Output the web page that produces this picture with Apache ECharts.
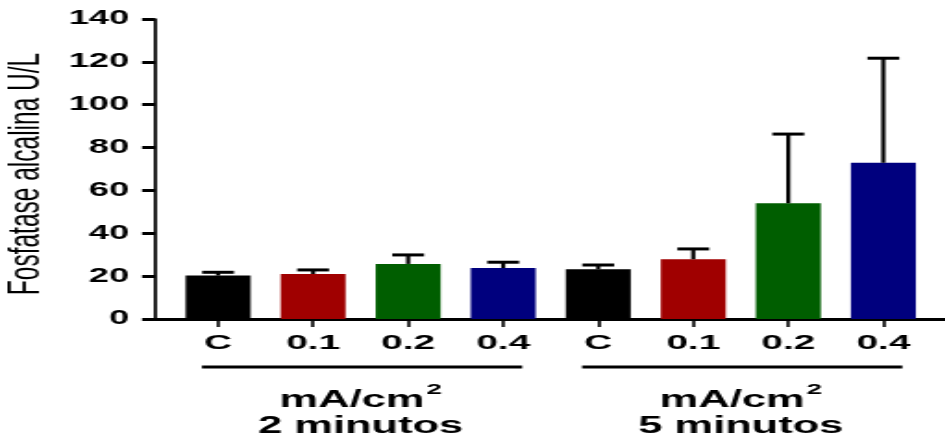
<!DOCTYPE html>
<html>
<head>
<meta charset="utf-8">
<script src="https://cdn.jsdelivr.net/npm/echarts@6/dist/echarts.min.js"></script>
<style>
  html, body { margin: 0; padding: 0; background: #fff; overflow: hidden; }
  #wrap { width: 945px; height: 438px; overflow: hidden; }
  /* the chart is laid out narrow and stretched horizontally */
  #chart { width: 510.8px; height: 438px; transform: scaleX(1.85); transform-origin: 0 0; }
</style>
</head>
<body>
<div id="wrap"><div id="chart"></div></div>
<script>
// Fosfatase alcalina (U/L), mean with upper SD, by current density and time
const tickLabels = ['C', '0.1', '0.2', '0.4', 'C', '0.1', '0.2', '0.4'];
const groupNames = ['2 minutos', '5 minutos'];
const groupRanges = [[0, 3], [4, 7]];
const means2min = [20.3, 21.0, 25.7, 23.8];
const upper2min = [21.8, 22.9, 29.9, 26.5];
const means5min = [23.2, 27.9, 54.0, 72.9];
const upper5min = [25.2, 32.7, 86.3, 121.7];
const barColors = ['#000000', '#a00000', '#005e00', '#00007e'];
const yTicks = [0, 20, 40, 60, 80, 100, 120, 140];

const FONT = "'Liberation Sans', Arial, Helvetica, sans-serif";
const BAR_W = 35.1;      // bar width in px (before stretch)
const CAP_HALF = 8.6;    // half width of the error-bar cap

const means = means2min.concat(means5min);
const uppers = upper2min.concat(upper5min);
const seriesData = means.map((m, i) => [i, m, uppers[i]]);
const positions = tickLabels.map((_, i) => i);

const chart = echarts.init(document.getElementById('chart'), null, { renderer: 'canvas' });

chart.setOption({
  animation: false,
  backgroundColor: '#ffffff',
  grid: { left: 83.8, right: 0, top: 19, bottom: 119, containLabel: false, outerBoundsMode: 'none' },
  xAxis: {
    type: 'value',
    min: -0.6632,
    max: 7.6526,
    splitLine: { show: false },
    axisLine: { show: true, onZero: false, lineStyle: { color: '#000', width: 3 } },
    axisTick: { show: true, customValues: positions, length: 8, lineStyle: { color: '#000', width: 1.6 } },
    axisLabel: {
      show: true,
      customValues: positions,
      formatter: v => tickLabels[Math.round(v)] || '',
      margin: 14,
      color: '#000',
      fontFamily: FONT,
      fontWeight: 'bold',
      fontSize: 21
    }
  },
  yAxis: {
    type: 'value',
    min: yTicks[0],
    max: yTicks[yTicks.length - 1],
    interval: 20,
    name: 'Fosfatase alcalina U/L',
    nameLocation: 'middle',
    nameGap: 45,
    nameTextStyle: { color: '#000', fontFamily: FONT, fontSize: 24.5, padding: [0, 10, 0, 0] },
    splitLine: { show: false },
    axisLine: { show: true, onZero: false, lineStyle: { color: '#000', width: 1.7 } },
    axisTick: { show: true, length: 7, lineStyle: { color: '#000', width: 3 } },
    axisLabel: { margin: 14, color: '#000', fontFamily: FONT, fontWeight: 'bold', fontSize: 19.5 }
  },
  series: [
    {
      // filled bars
      type: 'custom',
      z: 2,
      data: seriesData,
      renderItem: function (params, api) {
        const x = api.value(0);
        const top = api.coord([x, api.value(1)]);
        const base = api.coord([x, 0]);
        return {
          type: 'rect',
          shape: { x: top[0] - BAR_W / 2, y: top[1], width: BAR_W, height: base[1] - top[1] },
          style: { fill: barColors[params.dataIndex % 4] }
        };
      }
    },
    {
      // upper error bars
      type: 'custom',
      z: 3,
      data: seriesData,
      renderItem: function (params, api) {
        const x = api.value(0);
        const base = api.coord([x, api.value(1)]);
        const top = api.coord([x, api.value(2)]);
        return {
          type: 'group',
          children: [
            { type: 'line', shape: { x1: base[0], y1: base[1], x2: top[0], y2: top[1] },
              style: { stroke: '#000', lineWidth: 2.2 } },
            { type: 'line', shape: { x1: top[0] - CAP_HALF, y1: top[1], x2: top[0] + CAP_HALF, y2: top[1] },
              style: { stroke: '#000', lineWidth: 3 } }
          ]
        };
      }
    }
  ]
});

// group brackets and captions below the category labels
const graphics = [];
groupRanges.forEach((r, gi) => {
  const x1 = chart.convertToPixel({ gridIndex: 0 }, [r[0] - 0.17, 0])[0];
  const x2 = chart.convertToPixel({ gridIndex: 0 }, [r[1] + 0.2, 0])[0];
  const xc = chart.convertToPixel({ gridIndex: 0 }, [(r[0] + r[1]) / 2, 0])[0];
  graphics.push({
    type: 'line',
    shape: { x1: x1, y1: 367, x2: x2, y2: 367 },
    style: { stroke: '#000', lineWidth: 3 }
  });
  graphics.push({
    type: 'text',
    x: xc,
    y: 385,
    style: {
      text: '{u|mA/cm}{s|2}\n{t|' + groupNames[gi] + '}',
      align: 'center',
      verticalAlign: 'top',
      fill: '#000',
      rich: {
        u: { fontFamily: FONT, fontWeight: 'bold', fontSize: 23.5, lineHeight: 28, verticalAlign: 'bottom' },
        s: { fontFamily: FONT, fontWeight: 'bold', fontSize: 15, lineHeight: 28, verticalAlign: 'bottom', padding: [0, 0, 16, 1] },
        t: { fontFamily: FONT, fontWeight: 'bold', fontSize: 23.5, lineHeight: 28 }
      }
    }
  });
});
chart.setOption({ graphic: graphics });
</script>
</body>
</html>
